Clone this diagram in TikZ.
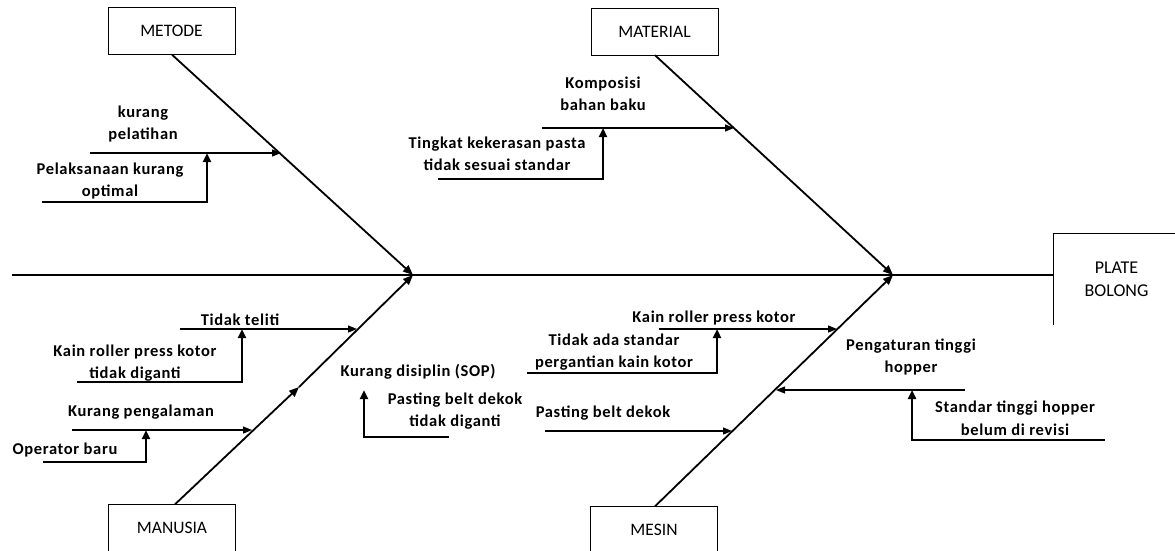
\documentclass[tikz,border=0pt]{standalone}
\usepackage{fontspec}
\setmainfont{Carlito}
\newfontfamily\causefont{Carlito}[LetterSpace=4]
\usetikzlibrary{arrows.meta}

\tikzset{
  category/.style={draw, minimum width=127pt, minimum height=47pt, font=\fontsize{17.5}{21}\selectfont},
  cause/.style={align=center, inner sep=1pt, font=\causefont\bfseries\fontsize{16.5}{22.5}\selectfont},
  bone/.style={line width=1.8pt, -{Triangle[length=10pt,width=8pt]}},
  twig/.style={line width=1.3pt, -{Triangle[length=9pt,width=7pt]}},
  stem/.style={line width=2.4pt, -{Triangle[length=9pt,width=8pt]}}
}

\begin{document}
\begin{tikzpicture}[x=1pt,y=-1pt]
    \useasboundingbox (0,0) rectangle (1175,550);

    \node[category] (metode)   at (171.5,31)  {METODE};
    \node[category] (material) at (654.5,31.5) {MATERIAL};
    \node[category] (manusia)  at (172,528)   {MANUSIA};
    \node[category] (mesin)    at (654,530)   {MESIN};
    \node[minimum width=127pt, minimum height=92pt, align=center,
          font=\fontsize{18}{23}\selectfont] (effect) at (1116.5,279) {PLATE\\BOLONG};
    \draw (effect.south west) -- (effect.north west) -- (effect.north east);

    \coordinate (tail) at (12,275);
    \coordinate (jl)   at (413,275);
    \coordinate (jr)   at (893,275);
    \coordinate (mid)  at (299,387);

    \draw [line width=1.3pt] (tail) -- (effect.west |- tail);
    \draw [bone] (metode.south -| 172,0) -- (jl);
    \draw [bone] (manusia.north -| 175,0) -- (mid);
    \draw [bone] (mid) -- (jl);
    \draw [bone] (material.south -| 655,0) -- (jr);
    \draw [bone] (mesin.north -| 655,0) -- (jr);

    % metode
    \node[cause] (pelatihan) at (143,124) {kurang\\pelatihan};
    \node[cause] (optimal)   at (110,181) {Pelaksanaan kurang\\optimal};
    \coordinate (a1) at (90,153);   \coordinate (a2) at (281,153);
    \coordinate (a3) at (42,202);   \coordinate (a4) at (207,202);
    \draw [twig] (a1) -- (a2);
    \draw [stem] (a3) -- (a4) -- (a4 |- a1);

    % material
    \node[cause] (komposisi) at (603,94)  {Komposisi\\bahan baku};
    \node[cause] (kekerasan) at (497,154) {Tingkat kekerasan pasta\\tidak sesuai standar};
    \coordinate (b1) at (542,128);  \coordinate (b2) at (734,128);
    \coordinate (b3) at (438,179);  \coordinate (b4) at (603,179);
    \draw [twig] (b1) -- (b2);
    \draw [stem] (b3) -- (b4) -- (b4 |- b1);

    % manusia
    \node[cause] (teliti)     at (240,320) {Tidak teliti};
    \node[cause] (kainm)      at (135,363) {Kain roller press kotor\\tidak diganti};
    \node[cause] (pengalaman) at (141,412) {Kurang pengalaman};
    \node[cause] (operator)   at (65,450)  {Operator baru};
    \node[cause] (disiplin)   at (418,372) {Kurang disiplin (SOP)};
    \node[cause] (beltm)      at (455,411) {Pasting belt dekok\\tidak diganti};
    \coordinate (c1) at (180,329);  \coordinate (c2) at (357,329);
    \coordinate (c3) at (77,382);   \coordinate (c4) at (242,382);
    \coordinate (c5) at (72,430);   \coordinate (c6) at (252,430);
    \coordinate (c7) at (43,462);   \coordinate (c8) at (146,462);
    \coordinate (c9) at (449,437);  \coordinate (c10) at (364,437);
    \draw [twig] (c1) -- (c2);
    \draw [stem] (c3) -- (c4) -- (c4 |- c1);
    \draw [twig] (c5) -- (c6);
    \draw [stem] (c7) -- (c8) -- (c8 |- c5);
    \draw [stem] (c9) -- (c10) -- (364,390);

    % mesin
    \node[cause] (kains)    at (714,318)  {Kain roller press kotor};
    \node[cause] (standar)  at (614,352)  {Tidak ada standar\\pergantian kain kotor};
    \node[cause] (belts)    at (603,413)  {Pasting belt dekok};
    \node[cause] (hopper)   at (911,357)  {Pengaturan tinggi\\hopper};
    \node[cause] (revisi)   at (1015,418) {Standar tinggi hopper\\belum di revisi};
    \coordinate (d1) at (659,329);  \coordinate (d2) at (837,329);
    \coordinate (d3) at (527,373);  \coordinate (d4) at (717,373);
    \coordinate (d5) at (545,431);  \coordinate (d6) at (732,431);
    \coordinate (d7) at (965,390);  \coordinate (d8) at (776,390);
    \coordinate (d9) at (1105,440); \coordinate (d10) at (912,440);
    \draw [twig] (d1) -- (d2);
    \draw [stem] (d3) -- (d4) -- (d4 |- d1);
    \draw [twig] (d5) -- (d6);
    \draw [twig] (d7) -- (d8);
    \draw [stem] (d9) -- (d10) -- (d10 |- d7);
\end{tikzpicture}
\end{document}
